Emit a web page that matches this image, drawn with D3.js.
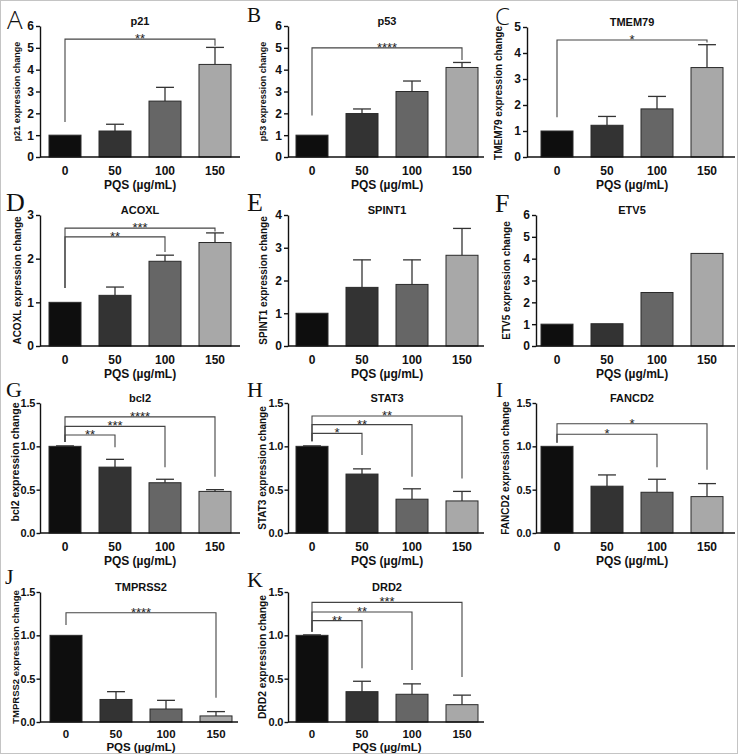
<!DOCTYPE html>
<meta charset="utf-8">
<style>
    body { margin: 0; background: #fff; }
    svg { display: block; font-family: "Liberation Sans", Arial, sans-serif; }
    .axis path, .axis line { stroke: #111; stroke-width: 1.4px; }
    .axis text { font-size: 12px; font-weight: bold; fill: #111; font-family: "Liberation Sans", Arial, sans-serif; }
    .axis.dec text { font-size: 11px; letter-spacing: -0.3px; }
    .axis.low text { font-size: 11.5px; }
    .bar { stroke: #2a2a2a; stroke-width: 1px; }
    .err { stroke: #333; stroke-width: 1.3px; fill: none; }
    .bracket { stroke: #444; stroke-width: 1.1px; fill: none; }
    .stars { font-size: 13px; fill: #222; text-anchor: middle; }
    .title { font-size: 11px; font-weight: bold; text-anchor: middle; fill: #111; }
    .xlab { font-size: 12px; font-weight: bold; text-anchor: middle; fill: #111; }
    .xlab.low { font-size: 11.5px; }
    .ylab { font-weight: bold; text-anchor: middle; fill: #111; }
</style>
<title>PQS expression change</title>
<script src="https://d3js.org/d3.v7.min.js"></script>
<body>
<svg id="fig" width="738" height="754"></svg>
<script>
    // ---- data ----
    var doses = ["0", "50", "100", "150"];
    var genes = ["p21", "p53", "TMEM79", "ACOXL", "SPINT1", "ETV5", "bcl2", "STAT3", "FANCD2", "TMPRSS2", "DRD2"];
    var letters = ["A", "B", "C", "D", "E", "F", "G", "H", "I", "J", "K"];

    var means = [
        [1, 1.19, 2.56, 4.24],
        [1, 1.99, 3.0, 4.1],
        [1, 1.22, 1.85, 3.44],
        [1, 1.16, 1.94, 2.37],
        [1, 1.79, 1.88, 2.77],
        [1, 1.02, 2.45, 4.24],
        [1, 0.76, 0.58, 0.48],
        [1, 0.68, 0.39, 0.37],
        [1, 0.54, 0.47, 0.42],
        [1, 0.26, 0.15, 0.07],
        [1, 0.35, 0.32, 0.20]
    ];
    // upper error (SD) per bar, null = no error bars
    var errs = [
        [0, 0.31, 0.63, 0.78],
        [0, 0.21, 0.48, 0.23],
        [0, 0.34, 0.48, 0.88],
        [0, 0.19, 0.14, 0.22],
        [0, 0.84, 0.75, 0.82],
        null,
        [0.005, 0.09, 0.04, 0.02],
        [0.005, 0.06, 0.12, 0.11],
        [0, 0.13, 0.15, 0.15],
        [0, 0.09, 0.10, 0.05],
        [0.005, 0.12, 0.12, 0.11]
    ];
    var yMax = [6, 6, 5, 3, 4, 6, 1.5, 1.5, 1.5, 1.5, 1.5];
    var yTicks = [
        [0, 1, 2, 3, 4, 5, 6], [0, 1, 2, 3, 4, 5, 6], [0, 1, 2, 3, 4, 5],
        [0, 1, 2, 3], [0, 1, 2, 3, 4], [0, 1, 2, 3, 4, 5, 6],
        [0, 0.5, 1, 1.5], [0, 0.5, 1, 1.5], [0, 0.5, 1, 1.5],
        [0, 0.5, 1, 1.5], [0, 0.5, 1, 1.5]
    ];
    // significance brackets: bar 0 vs bar "to"; top / left end / right end in data units
    var sig = [
        [{to: "150", label: "**", top: 5.4, left: 1.6, right: 5.1}],
        [{to: "150", label: "****", top: 5.0, left: 1.9, right: 4.44}],
        [{to: "150", label: "*", top: 4.5, left: 1.53, right: 4.4}],
        [{to: "150", label: "***", top: 2.7, left: 1.33, right: 2.62},
         {to: "100", label: "**", top: 2.5, left: 1.33, right: 2.15}],
        [],
        [],
        [{to: "150", label: "****", top: 1.34, left: 1.05, right: 0.65},
         {to: "100", label: "***", top: 1.23, left: 1.05, right: 0.76},
         {to: "50", label: "**", top: 1.13, left: 1.05, right: 0.99}],
        [{to: "150", label: "**", top: 1.35, left: 1.06, right: 0.63},
         {to: "100", label: "**", top: 1.25, left: 1.06, right: 0.65},
         {to: "50", label: "*", top: 1.15, left: 1.06, right: 0.9}],
        [{to: "150", label: "*", top: 1.26, left: 1.04, right: 0.73},
         {to: "100", label: "*", top: 1.14, left: 1.04, right: 0.76}],
        [{to: "150", label: "****", top: 1.26, left: 1.12, right: 0.28}],
        [{to: "150", label: "***", top: 1.38, left: 1.04, right: 0.52},
         {to: "100", label: "**", top: 1.27, left: 1.04, right: 0.6},
         {to: "50", label: "**", top: 1.17, left: 1.04, right: 0.62}]
    ];

    // ---- panel layout ----
    var layout = [
        {ax: 40,  bx: 40,  ax1: 240, top: 26,  bot: 157, labX: 17,   labSize: 9,    lx: 7,   ly: 29,  lsize: 26, sans: true},
        {ax: 288, bx: 287, ax1: 484, top: 26,  bot: 157, labX: 263,  labSize: 9,    lx: 247, ly: 22,  lsize: 21},
        {ax: 527, bx: 532, ax1: 735, top: 27,  bot: 157, labX: 498,  labSize: 10,   lx: 495, ly: 25,  lsize: 24, sans: true, labC: 93},
        {ax: 40,  bx: 40,  ax1: 240, top: 215, bot: 346, labX: 17,   labSize: 10,   lx: 6,   ly: 211, lsize: 26},
        {ax: 288, bx: 287, ax1: 484, top: 215, bot: 346, labX: 263,  labSize: 10,   lx: 247, ly: 211, lsize: 26},
        {ax: 536, bx: 532, ax1: 735, top: 215, bot: 346, labX: 506,  labSize: 10,   lx: 495, ly: 212, lsize: 26},
        {ax: 40,  bx: 40,  ax1: 240, top: 403, bot: 533, labX: 15.5, labSize: 10.5, lx: 6,   ly: 397, lsize: 22, labC: 462},
        {ax: 288, bx: 287, ax1: 484, top: 403, bot: 533, labX: 262,  labSize: 10,   lx: 247, ly: 397, lsize: 22},
        {ax: 536, bx: 532, ax1: 735, top: 403, bot: 533, labX: 505,  labSize: 10,   lx: 496, ly: 397, lsize: 21},
        {ax: 40,  bx: 41,  ax1: 238, top: 592, bot: 722, labX: 15.5, labSize: 9.5,  lx: 5,   ly: 584, lsize: 22},
        {ax: 288, bx: 287, ax1: 484, top: 592, bot: 722, labX: 262,  labSize: 10.3, lx: 247, ly: 587, lsize: 22}
    ];

    var fill = d3.scaleOrdinal().domain(doses).range(["#0e0e0e", "#333333", "#666666", "#a8a8a8"]);

    var svg = d3.select("#fig");

    svg.append("rect")
        .attr("x", 0.5).attr("y", 0.5)
        .attr("width", 737).attr("height", 753)
        .attr("fill", "#fff").attr("stroke", "#c4c4c4");

    genes.forEach(function(gene, i) {
        var L = layout[i];
        var low = i > 8;   // bottom row sits tight against the page edge
        var g = svg.append("g").attr("class", "panel");

        var x = d3.scaleBand().domain(doses)
            .range([L.bx, L.bx + 200])
            .paddingInner(0.36).paddingOuter(0.18);
        var y = d3.scaleLinear().domain([0, yMax[i]]).range([L.bot, L.top]);
        var cx = function(d) { return x(d) + x.bandwidth() / 2; };
        var dec = yMax[i] < 2;
        var fmt = dec ? d3.format(".1f") : d3.format("d");

        var rows = doses.map(function(d, j) {
            return {dose: d, mean: means[i][j], err: errs[i] ? errs[i][j] : 0};
        });

        // error bars (drawn first, bars sit on top)
        var eb = g.selectAll(".eb").data(rows.filter(function(r) { return r.err > 0; }))
            .enter().append("g").attr("class", "eb");
        eb.append("line").attr("class", "err")
            .attr("x1", function(r) { return cx(r.dose); })
            .attr("x2", function(r) { return cx(r.dose); })
            .attr("y1", function(r) { return y(r.mean); })
            .attr("y2", function(r) { return y(r.mean + r.err); });
        eb.append("line").attr("class", "err")
            .attr("x1", function(r) { return cx(r.dose) - x.bandwidth() * 0.28; })
            .attr("x2", function(r) { return cx(r.dose) + x.bandwidth() * 0.28; })
            .attr("y1", function(r) { return y(r.mean + r.err); })
            .attr("y2", function(r) { return y(r.mean + r.err); });

        g.selectAll(".bar").data(rows).enter().append("rect")
            .attr("class", "bar")
            .attr("x", function(r) { return x(r.dose); })
            .attr("width", x.bandwidth())
            .attr("y", function(r) { return y(r.mean); })
            .attr("height", function(r) { return y(0) - y(r.mean); })
            .attr("fill", function(r) { return fill(r.dose); });

        // significance brackets
        sig[i].forEach(function(s) {
            var x0 = cx("0"), x1 = cx(s.to);
            g.append("path").attr("class", "bracket")
                .attr("d", "M" + x0 + "," + y(s.left) + "V" + y(s.top) + "H" + x1 + "V" + y(s.right));
            g.append("text").attr("class", "stars")
                .attr("x", (x0 + x1) / 2)
                .attr("y", y(s.top) + 4)
                .text(s.label);
        });

        // axes
        g.append("g").attr("class", dec ? "axis dec" : "axis")
            .attr("transform", "translate(" + L.ax + ",0)")
            .call(d3.axisLeft(y).tickValues(yTicks[i]).tickSize(dec ? 3.5 : 4).tickSizeOuter(0)
                .tickPadding(dec ? 1.5 : 2).tickFormat(fmt));

        var xa = g.append("g").attr("class", low ? "axis low" : "axis")
            .attr("transform", "translate(0," + L.bot + ")")
            .call(d3.axisBottom(x).tickSize(0).tickPadding(low ? 8.3 : 9.5));
        xa.select(".domain").remove();
        xa.append("line")
            .attr("x1", L.ax).attr("x2", L.ax1)
            .attr("y1", 0).attr("y2", 0);

        // texts
        var mid = L.bx + 100;
        g.append("text").attr("class", "title")
            .attr("x", mid).attr("y", L.top - 1)
            .text(gene);
        g.append("text").attr("class", low ? "xlab low" : "xlab")
            .attr("x", mid).attr("y", L.bot + (low ? 29.3 : 31.5))
            .text("PQS (\u00b5g/mL)");
        g.append("text").attr("class", "ylab")
            .attr("transform", "rotate(-90)")
            .attr("x", -(L.labC || (L.top + L.bot) / 2))
            .attr("y", L.labX)
            .attr("dy", "0.35em")
            .style("font-size", L.labSize + "px")
            .text(gene + " expression change");
        g.append("text")
            .attr("x", L.lx).attr("y", L.ly)
            .style("font-family", L.sans ? "'Open Sans', 'Liberation Sans', sans-serif" : "'Liberation Serif', 'Times New Roman', serif")
            .style("font-weight", L.sans ? 300 : 400)
            .style("font-size", L.lsize + "px")
            .attr("fill", "#111")
            .text(letters[i]);
    });
</script>
</body>
